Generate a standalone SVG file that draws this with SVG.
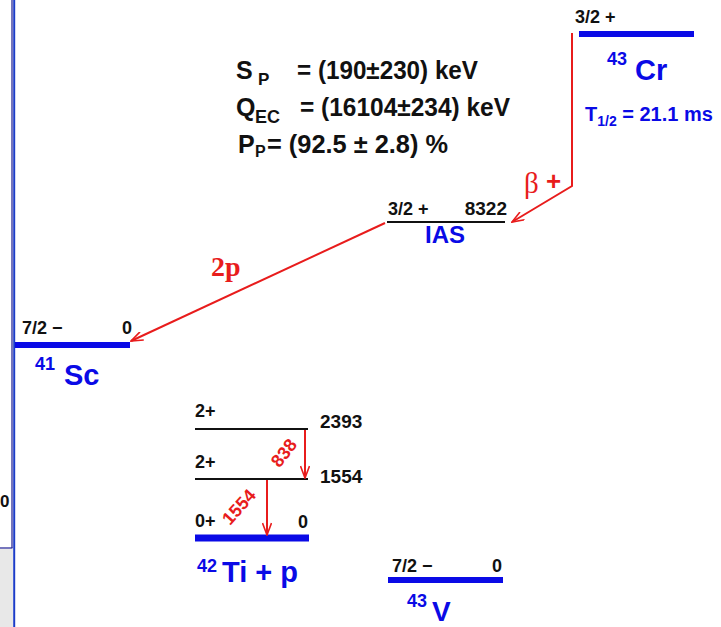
<svg xmlns="http://www.w3.org/2000/svg" width="721" height="627" viewBox="0 0 721 627">
<defs>
<style>
text{font-family:"Liberation Sans",Arial,sans-serif;font-weight:bold}
.k{fill:#111}
.b{fill:#0a0ae6}
.r{fill:#e81c1c}
.lv{stroke:#111;stroke-width:2}
.gs{stroke:#0a0ae6;stroke-width:6}
.ar{stroke:#e81c1c;stroke-width:2;fill:none}
</style>
<marker id="ah" viewBox="0 0 14 10" refX="13" refY="5" markerWidth="14" markerHeight="10" orient="auto" markerUnits="userSpaceOnUse">
<path d="M1,0.5 L13,5 L1,9.5" fill="none" stroke="#e81c1c" stroke-width="1.6"/>
</marker>
</defs>
<rect width="721" height="627" fill="#fff"/>
<g id="frame">
<rect x="0" y="549" width="13" height="78" fill="#e8e8e8"/>
<line x1="12" y1="0" x2="12" y2="548" stroke="#1a1a90" stroke-width="1.2"/>
<line x1="0" y1="548" x2="12.5" y2="548" stroke="#1a1a90" stroke-width="1.2"/>
<line x1="14.2" y1="0" x2="14.2" y2="627" stroke="#1c3cc8" stroke-width="2"/>
<text x="0" y="507" font-size="17" class="k">0</text>
</g>
<g id="info">
<text x="236" y="79" font-size="25" class="k">S</text>
<text x="258" y="85" font-size="17" class="k">P</text>
<text x="297" y="79" font-size="25" class="k" textLength="181" lengthAdjust="spacingAndGlyphs">= (190±230) keV</text>
<text x="236" y="116" font-size="25" class="k">Q</text>
<text x="255" y="123" font-size="18" class="k">EC</text>
<text x="300" y="116" font-size="25" class="k" textLength="210" lengthAdjust="spacingAndGlyphs">= (16104±234) keV</text>
<text x="238" y="153" font-size="25" class="k">P</text>
<text x="255" y="157" font-size="16" class="k">P</text>
<text x="267" y="153" font-size="25" class="k" textLength="181" lengthAdjust="spacingAndGlyphs">= (92.5 ± 2.8) %</text>
</g>
<g id="cr43">
<line x1="579" y1="34" x2="694" y2="34" class="gs"/>
<text x="575" y="23" font-size="18" class="k">3/2 +</text>
<text x="607" y="65" font-size="18" class="b">43</text>
<text x="635" y="80" font-size="29" class="b">Cr</text>
<text x="585" y="121" font-size="20" class="b">T<tspan font-size="14" dy="5">1/2</tspan><tspan dy="-5"> = 21.1 ms</tspan></text>
</g>
<g id="ias">
<line x1="387" y1="222" x2="505" y2="222" class="lv"/>
<text x="388" y="215" font-size="18" class="k">3/2 +</text>
<text x="507" y="215" font-size="19" class="k" text-anchor="end">8322</text>
<text x="425" y="243" font-size="24" class="b">IAS</text>
</g>
<g id="sc41">
<line x1="15" y1="345" x2="130" y2="345" class="gs"/>
<text x="22" y="334" font-size="18" class="k">7/2 −</text>
<text x="132" y="334" font-size="18" class="k" text-anchor="end">0</text>
<text x="35" y="370" font-size="18" class="b">41</text>
<text x="64" y="385" font-size="29" class="b">Sc</text>
</g>
<g id="ti42">
<line x1="195" y1="429" x2="308" y2="429" class="lv"/>
<text x="195" y="417" font-size="18" class="k">2+</text>
<text x="320" y="428" font-size="19" class="k">2393</text>
<line x1="195" y1="479" x2="308" y2="479" class="lv"/>
<text x="195" y="468" font-size="18" class="k">2+</text>
<text x="320" y="483" font-size="19" class="k">1554</text>
<line x1="195" y1="538" x2="309" y2="538" stroke="#0a0ae6" stroke-width="7"/>
<text x="195" y="527" font-size="18" class="k">0+</text>
<text x="308" y="528" font-size="18" class="k" text-anchor="end">0</text>
<text x="197" y="572" font-size="18" class="b">42</text>
<text x="222" y="582" font-size="29" class="b">Ti + p</text>
</g>
<g id="v43">
<line x1="388" y1="580" x2="503" y2="580" class="gs"/>
<text x="392" y="572" font-size="18" class="k">7/2 −</text>
<text x="502" y="572" font-size="18" class="k" text-anchor="end">0</text>
<text x="407" y="607" font-size="18" class="b">43</text>
<text x="432" y="621" font-size="28" class="b">V</text>
</g>
<g id="connectors">
<polyline points="572,33 572,186 512,222" class="ar" marker-end="url(#ah)"/>
<text x="524" y="193" font-size="29" class="r" style="font-family:'Liberation Serif',serif;font-weight:normal">β</text>
<text x="546" y="190" font-size="26" class="r">+</text>
<line x1="385" y1="223" x2="131" y2="341" class="ar" marker-end="url(#ah)"/>
<text x="211" y="276" font-size="28" class="r" style="font-family:'Liberation Serif',serif">2p</text>
<line x1="305" y1="430" x2="305" y2="478" class="ar" marker-end="url(#ah)"/>
<text transform="translate(284,453) rotate(-52)" x="0" y="6" font-size="18" class="r" text-anchor="middle">838</text>
<line x1="267" y1="480" x2="267" y2="535" class="ar" marker-end="url(#ah)"/>
<text transform="translate(239,507) rotate(-48)" x="0" y="6" font-size="18" class="r" text-anchor="middle">1554</text>
</g>
</svg>
